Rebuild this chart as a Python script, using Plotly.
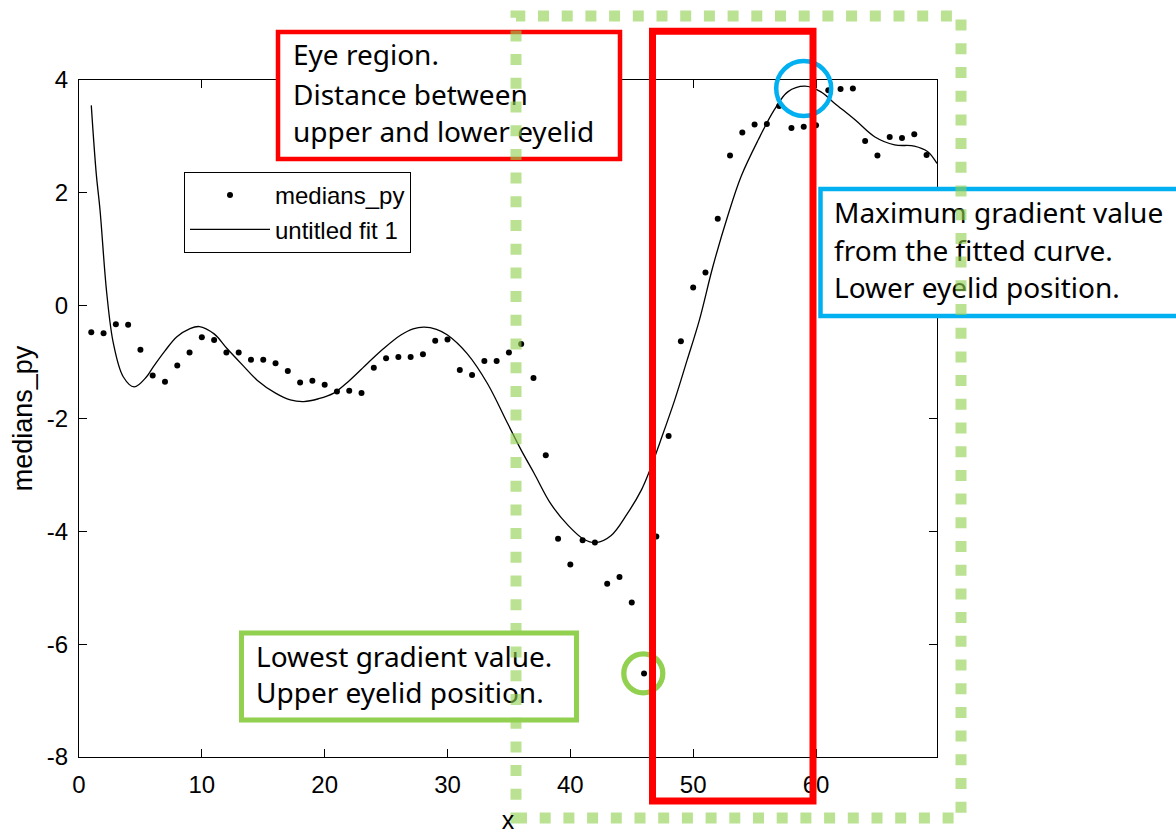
import plotly.graph_objects as go

# ---------------- data ----------------
x_med = list(range(1, 70))
y_med = [-0.47, -0.49, -0.33, -0.34, -0.78, -1.24, -1.35, -1.06, -0.83, -0.56,
         -0.61, -0.83, -0.83, -0.96, -0.96, -1.02, -1.16, -1.36, -1.33, -1.40,
         -1.52, -1.51, -1.55, -1.10, -0.93, -0.91, -0.91, -0.86, -0.62, -0.60,
         -1.14, -1.23, -0.98, -0.98, -0.83, -0.68, -1.28, -2.65, -4.13, -4.59,
         -4.16, -4.20, -4.93, -4.81, -5.26, -6.52, -4.09, -2.31, -0.63, 0.32,
         0.59, 1.54, 2.66, 3.07, 3.21, 3.22, 3.54, 3.15, 3.17, 3.20,
         3.82, 3.84, 3.85, 2.92, 2.66, 2.99, 2.97, 3.04, 2.67]

x_fit = [1.0, 1.4, 1.71, 2.26, 2.8, 3.6, 4.49, 5.5, 6.06, 7.0, 7.97, 9.0, 9.8,
         11.0, 12.05, 13.3, 14.5, 16.0, 17.2, 18.3, 19.5, 20.74, 22.0, 23.5,
         24.8, 26.2, 27.2, 28.1, 29.1, 30.0, 31.6, 33.25, 34.9, 36.0, 37.05,
         38.4, 39.8, 41.1, 42.1, 43.3, 44.6, 45.8, 46.5, 47.3, 48.5, 49.5,
         50.5, 51.6, 52.8, 53.9, 55.3, 56.6, 57.7, 59.1, 60.4, 61.5, 63.2,
         64.8, 66.4, 68.0, 69.1, 69.85]
y_fit = [3.55, 2.35, 1.70, 0.22, -0.67, -1.26, -1.44, -1.26, -1.08, -0.80,
         -0.55, -0.41, -0.37, -0.50, -0.76, -1.05, -1.32, -1.55, -1.67, -1.70,
         -1.65, -1.55, -1.33, -1.02, -0.76, -0.52, -0.41, -0.38, -0.42, -0.52,
         -0.85, -1.38, -2.09, -2.56, -2.97, -3.51, -3.89, -4.14, -4.20, -4.08,
         -3.70, -3.26, -2.90, -2.42, -1.67, -0.97, -0.26, 0.69, 1.58, 2.29,
         2.94, 3.47, 3.79, 3.89, 3.79, 3.59, 3.29, 2.99, 2.85, 2.83, 2.73, 2.52]

x_ticks = [0, 10, 20, 30, 40, 50, 60]
x_tick_labels = ["0", "10", "20", "30", "40", "50", "60"]
y_ticks = [-8, -6, -4, -2, 0, 2, 4]
y_tick_labels = ["-8", "-6", "-4", "-2", "0", "2", "4"]

# ---------------- figure geometry ----------------
W, H = 1176, 834
L, R, T, B = 79, 937, 80, 757


def xp(px):
    return (px - L) / (R - L)


def yp(py):
    return (B - py) / (B - T)


AX_FONT = "Liberation Sans, Arial, sans-serif"
TXT_FONT = "Noto Sans, Open Sans, sans-serif"

fig = go.Figure()
fig.add_trace(go.Scatter(x=x_med, y=y_med, mode="markers", name="medians_py",
                         marker=dict(color="black", size=6)))
fig.add_trace(go.Scatter(x=x_fit, y=y_fit, mode="lines", name="untitled fit 1",
                         line=dict(color="black", width=1.3, shape="spline", smoothing=1)))

shapes = []


def box(x0, y0, x1, y1, color, width, fill="white", dash=None, kind="rect"):
    d = dict(type=kind, xref="paper", yref="paper",
             x0=xp(x0), x1=xp(x1), y0=yp(y1), y1=yp(y0),
             line=dict(color=color, width=width), fillcolor=fill, layer="above")
    if dash:
        d["line"]["dash"] = dash
    shapes.append(d)


def text_line(x, yc, s, size=28):
    shapes.append(dict(type="rect", xref="paper", yref="paper",
                       x0=xp(x), x1=xp(x + 340), y0=yp(yc + 14), y1=yp(yc - 14),
                       line=dict(width=0), fillcolor="rgba(0,0,0,0)", layer="above",
                       label=dict(text=s, textposition="middle left", padding=0,
                                  font=dict(family=TXT_FONT, size=size, color="black"))))


RED = "#ff0000"
BLUE = "#00b0f0"
GREEN = "#92d050"

# circles
box(803.7 - 27.5, 88.5 - 27.5, 803.7 + 27.5, 88.5 + 27.5, BLUE, 4.5, fill="rgba(0,0,0,0)", kind="circle")
box(643.3 - 19.5, 673.3 - 19.5, 643.3 + 19.5, 673.3 + 19.5, GREEN, 5.3, fill="rgba(0,0,0,0)", kind="circle")

# text boxes
box(278, 32, 620, 159, RED, 4.5)
text_line(290, 56, "Eye region.")
text_line(290, 96, "Distance between")
text_line(290, 133, "upper and lower eyelid")

box(820.5, 189, 1190, 316, BLUE, 4.5)
text_line(831, 214, "Maximum gradient value")
text_line(831, 252, "from the fitted curve.")
text_line(831, 289, "Lower eyelid position.")

box(241.5, 633, 576.5, 720, GREEN, 5)
text_line(253, 657.5, "Lowest gradient value.")
text_line(253, 694, "Upper eyelid position.")

# red eye-region rectangle
box(652.5, 31.3, 813, 801, RED, 7, fill="rgba(0,0,0,0)")

# green dotted rectangle
box(516, 16, 961, 818, "rgba(146,208,80,0.62)", 11, fill="rgba(0,0,0,0)", dash="11px,12.7px")

axis_common = dict(showline=True, linecolor="black", linewidth=1.3, mirror="ticks",
                   ticks="inside", ticklen=8, tickwidth=1.2, tickcolor="black",
                   showgrid=False, zeroline=False, automargin=False,
                   tickfont=dict(family=AX_FONT, size=24, color="black"))

fig.update_layout(
    width=W, height=H,
    margin=dict(l=L, r=W - R, t=T, b=H - B),
    paper_bgcolor="white", plot_bgcolor="white",
    xaxis=dict(range=[0, 69.85], tickmode="array", tickvals=x_ticks, ticktext=x_tick_labels,
               title=dict(text="x", font=dict(family=AX_FONT, size=25, color="black"), standoff=18),
               ticklabelstandoff=6, **axis_common),
    yaxis=dict(range=[-8, 4], tickmode="array", tickvals=y_ticks, ticktext=y_tick_labels,
               title=dict(text="medians_py", font=dict(family=AX_FONT, size=27, color="black"), standoff=6),
               ticklabelstandoff=5, **axis_common),
    legend=dict(x=xp(184), y=yp(172), xanchor="left", yanchor="top",
                bgcolor="white", bordercolor="black", borderwidth=1,
                font=dict(family=AX_FONT, size=24, color="black"),
                itemwidth=80, tracegroupgap=0),
    shapes=shapes,
    showlegend=True,
)

fig.write_html("out.html")
